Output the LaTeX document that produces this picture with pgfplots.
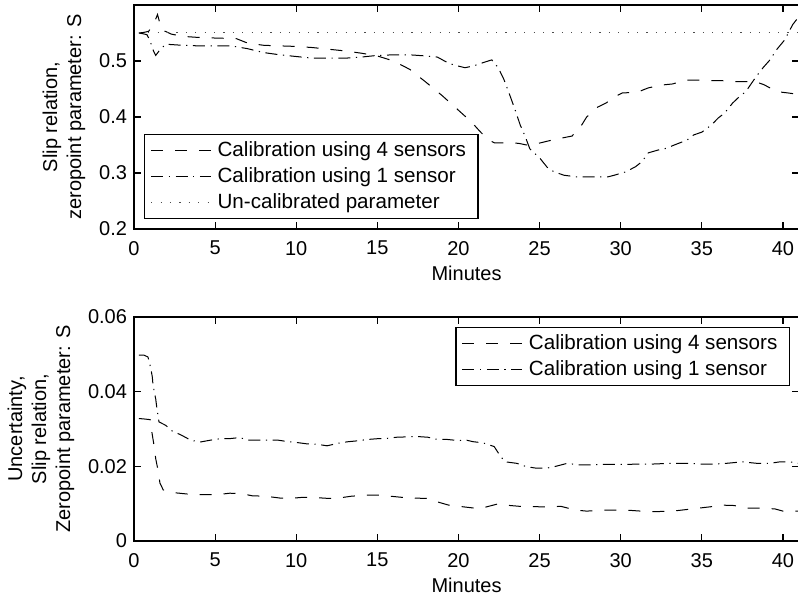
\documentclass[border=0pt]{standalone}
\usepackage{fontspec}
\setmainfont{Liberation Sans}
\usepackage{pgfplots}
\pgfplotsset{compat=1.18}
\pgfplotsset{
  myax/.style={
    scale only axis, width=332.6pt, height=112pt,
    xmin=0, xmax=41, xtick={0,5,...,40},
    tick align=inside, major tick length=3.5pt,
    axis line style={line width=0.7pt},
    every tick/.style={line width=0.6pt, black},
    /pgf/number format/assume math mode=true,
    scaled y ticks=false,
    xticklabel style={yshift=-2.5pt},
    xlabel={Minutes},
    xlabel style={yshift=1.5pt},
    ylabel style={align=center},
    legend cell align=left,
    legend image code/.code={\draw[#1] (0pt,0pt) -- (30pt,0pt);},
    legend style={draw=black, line width=0.6pt, font=\fontsize{10.3}{12}\selectfont,
      inner xsep=3pt, inner ysep=1pt, row sep=-1pt,
      nodes={inner xsep=3pt, inner ysep=2.5pt}},
  },
  dsh/.style={black, line width=0.5pt, dash pattern=on 6pt off 6pt},
  dshdot/.style={black, line width=0.5pt, dash pattern=on 6pt off 2.8pt on 0.6pt off 2.8pt},
  dtt/.style={black!70, line width=0.5pt, dash pattern=on 0.6pt off 4.1pt},
}
\begin{document}
\begin{tikzpicture}
\path[use as bounding box] (0pt,0pt) rectangle (399pt,300pt);
\begin{axis}[myax, at={(67pt,185.5pt)}, anchor=south west,
  ymin=0.2, ymax=0.6, ytick={0.2,0.3,0.4,0.5},
  yticklabel style={/pgf/number format/fixed, /pgf/number format/precision=1},
  ylabel={Slip relation,\\zeropoint parameter: S},
  legend style={at={(0,0)}, anchor=south west, xshift=5pt, yshift=5pt}]
\addplot[dsh] coordinates {
(0.3,0.55)(0.6,0.551)(0.9,0.553)(1.2,0.565)(1.45,0.583)(1.7,0.556)(2.3,0.548)(3,0.544)(4,0.542)(5,0.541)(6.3,0.540)(7,0.532)(8,0.528)(9,0.527)(10,0.526)(11,0.524)(12,0.521)(13,0.518)(14,0.514)(15,0.509)(16,0.500)(17,0.485)(18,0.462)(19,0.438)(20,0.412)(20.8,0.391)(21.3,0.375)(21.8,0.36)(22.2,0.354)(23,0.354)(23.7,0.353)(24.2,0.35)(24.8,0.352)(25.5,0.357)(26.3,0.362)(27,0.366)(27.6,0.386)(27.9,0.400)(28.6,0.418)(29.1,0.425)(29.5,0.434)(30.1,0.443)(31,0.444)(31.7,0.452)(32.5,0.457)(33.2,0.459)(34,0.466)(34.7,0.466)(35.5,0.465)(36.2,0.465)(37,0.463)(37.8,0.463)(38.4,0.462)(38.8,0.458)(39.2,0.452)(39.7,0.445)(40.3,0.443)(41,0.440)
};
\addlegendentry{Calibration using 4 sensors}
\addplot[dshdot] coordinates {
(0.3,0.55)(0.5,0.549)(0.8,0.547)(1.0,0.535)(1.2,0.518)(1.34,0.510)(1.6,0.52)(1.95,0.53)(3,0.528)(4,0.527)(5,0.527)(6,0.527)(7,0.522)(8,0.515)(9,0.511)(10,0.508)(11,0.505)(12,0.505)(13,0.505)(14,0.507)(15,0.510)(16,0.511)(17,0.511)(18,0.509)(18.7,0.507)(19.2,0.499)(19.7,0.493)(20.4,0.488)(20.9,0.491)(21.4,0.496)(22.05,0.502)(22.45,0.488)(22.8,0.467)(23.2,0.436)(23.5,0.412)(23.8,0.386)(24.1,0.366)(24.4,0.343)(24.7,0.335)(25,0.327)(25.5,0.309)(25.9,0.302)(26.5,0.296)(27.3,0.293)(28,0.293)(29.2,0.293)(29.6,0.296)(30.3,0.302)(30.9,0.311)(31.3,0.320)(31.7,0.336)(32.3,0.341)(32.8,0.344)(33.3,0.350)(34.1,0.359)(34.5,0.368)(35,0.373)(35.6,0.386)(36,0.398)(36.4,0.407)(36.9,0.425)(37.3,0.436)(37.7,0.445)(38.2,0.466)(38.5,0.478)(38.8,0.489)(39.2,0.502)(39.6,0.52)(40.1,0.5375)(40.6,0.565)(41,0.58)
};
\addlegendentry{Calibration using 1 sensor}
\addplot[dtt] coordinates {(0.3,0.55)(41,0.55)};
\addlegendentry{Un-calibrated parameter}
\end{axis}
\begin{axis}[myax, at={(67pt,29.5pt)}, anchor=south west,
  ymin=0, ymax=0.06, ytick={0,0.02,0.04,0.06},
  yticklabel style={/pgf/number format/fixed, /pgf/number format/precision=2},
  ylabel={Uncertainty,\\Slip relation,\\Zeropoint parameter: S},
  legend style={at={(1,1)}, anchor=north east, xshift=-4.6pt, yshift=-5pt}]
\addplot[dsh] coordinates {
(0.3,0.0328)(0.6,0.0327)(1.0,0.0325)(1.1,0.0292)(1.23,0.0257)(1.34,0.022)(1.48,0.019)(1.6,0.0155)(1.8,0.0137)(2.3,0.013)(2.8,0.0128)(3.7,0.0124)(4.5,0.0124)(5.1,0.0124)(5.9,0.0128)(6.6,0.0127)(7.3,0.0121)(8.1,0.012)(9,0.0115)(9.6,0.0114)(10.4,0.0117)(11.3,0.0116)(12,0.0114)(12.6,0.0115)(13.4,0.012)(14.4,0.0123)(15,0.0123)(15.8,0.012)(16.5,0.0117)(17.2,0.0115)(18.1,0.0114)(18.6,0.0106)(19.4,0.0096)(20.2,0.0092)(21,0.0088)(21.6,0.009)(22.4,0.0099)(23.2,0.0095)(24,0.0092)(24.7,0.0092)(25.6,0.0091)(26.3,0.0093)(27.2,0.0083)(27.9,0.008)(28.6,0.0082)(29.4,0.0083)(30.2,0.0083)(30.6,0.0082)(31.6,0.0079)(32.4,0.0079)(33.2,0.008)(33.8,0.0083)(34.8,0.0088)(35.6,0.0092)(36.3,0.0096)(37,0.0095)(37.8,0.0088)(38.6,0.0088)(39.5,0.0086)(40,0.008)(41,0.008)
};
\addlegendentry{Calibration using 4 sensors}
\addplot[dshdot] coordinates {
(0.3,0.0498)(0.6,0.0498)(0.86,0.0493)(1.03,0.0464)(1.13,0.0439)(1.17,0.0418)(1.34,0.038)(1.4,0.0359)(1.54,0.0319)(1.95,0.031)(2.34,0.0295)(2.9,0.0284)(3.5,0.027)(4.07,0.0265)(4.7,0.027)(5.3,0.0274)(5.85,0.0274)(6.5,0.0277)(7.1,0.027)(8.2,0.027)(8.9,0.027)(9.5,0.0266)(10,0.0264)(10.7,0.026)(11.3,0.0259)(11.9,0.0255)(12.6,0.0262)(13.2,0.0266)(13.7,0.0268)(14.4,0.0272)(15,0.0274)(15.6,0.0275)(16.2,0.0278)(16.9,0.0279)(17.4,0.028)(18.1,0.0278)(18.6,0.0273)(19.3,0.0272)(20,0.0269)(20.5,0.027)(20.9,0.0266)(21.5,0.0263)(22.2,0.0253)(22.6,0.0226)(22.9,0.0212)(23.6,0.0208)(24.2,0.0199)(24.8,0.0195)(25.4,0.0195)(25.9,0.0199)(26.7,0.0208)(27.4,0.0204)(28.1,0.0204)(28.9,0.0205)(30,0.0205)(31.2,0.0206)(31.9,0.0206)(33,0.0208)(34.3,0.0208)(34.9,0.0206)(35.7,0.0206)(36.5,0.0208)(37.5,0.0212)(38.4,0.0208)(39.2,0.0208)(39.8,0.0212)(40.4,0.0212)(41,0.0208)
};
\addlegendentry{Calibration using 1 sensor}
\end{axis}
\end{tikzpicture}
\end{document}
